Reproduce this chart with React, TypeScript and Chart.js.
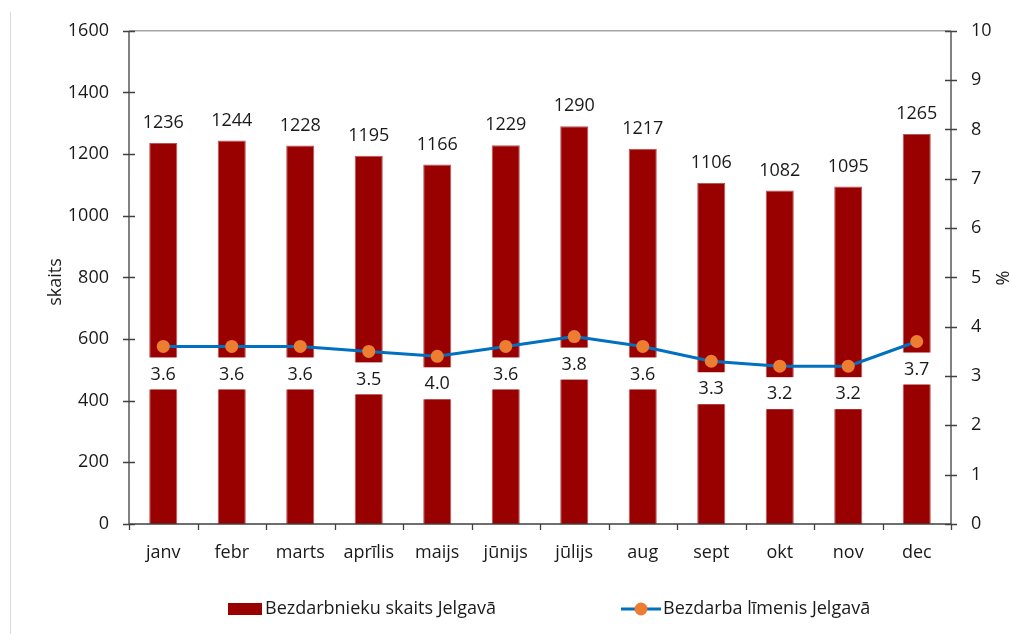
import React, { useEffect, useRef } from "react";
import { Chart, registerables } from "chart.js";
Chart.register(...registerables);

const months = ["janv", "febr", "marts", "aprīlis", "maijs", "jūnijs", "jūlijs", "aug", "sept", "okt", "nov", "dec"];
const unemployedCount = [1236, 1244, 1228, 1195, 1166, 1229, 1290, 1217, 1106, 1082, 1095, 1265];
const unemploymentRate = [3.6, 3.6, 3.6, 3.5, 3.4, 3.6, 3.8, 3.6, 3.3, 3.2, 3.2, 3.7];
const rateLabels = ["3.6", "3.6", "3.6", "3.5", "4.0", "3.6", "3.8", "3.6", "3.3", "3.2", "3.2", "3.7"];
const countLabel = "Bezdarbnieku skaits Jelgavā";
const rateLabel = "Bezdarba līmenis Jelgavā";
const leftTitle = "skaits";
const rightTitle = "%";

const FONT = "'Open Sans', 'Noto Sans', sans-serif";
const FS = 18;
const BAR = "#990000";
const LINE = "#0070C0";
const MARK = "#ED7D31";
const TEXT = "#1a1a1a";

const decor = {
  id: "decor",
  afterDatasetDraw(chart: any, args: any) {
    if (args.index !== 0) return;
    const ctx = chart.ctx;
    const barMeta = chart.getDatasetMeta(0);
    const lineMeta = chart.getDatasetMeta(1);
    ctx.save();
    ctx.font = `${FS}px ${FONT}`;
    ctx.textAlign = "center";
    ctx.textBaseline = "middle";
    barMeta.data.forEach((bar: any, i: number) => {
      ctx.fillStyle = TEXT;
      ctx.fillText(String(unemployedCount[i]), bar.x, bar.y - 20);
      const pt = lineMeta.data[i];
      const w = bar.width + 6;
      ctx.fillStyle = "#ffffff";
      ctx.fillRect(bar.x - w / 2, pt.y + 11, w, 32);
      ctx.fillStyle = TEXT;
      ctx.fillText(rateLabels[i], bar.x, pt.y + 28);
    });
    ctx.restore();
  },
  afterDraw(chart: any) {
    const ctx = chart.ctx;
    const a = chart.chartArea;
    const y = chart.scales.y;
    const y1 = chart.scales.y1;
    const x = chart.scales.x;
    ctx.save();
    ctx.strokeStyle = "#d9d9d9";
    ctx.lineWidth = 1;
    ctx.beginPath();
    ctx.moveTo(10.5, 12);
    ctx.lineTo(10.5, 634);
    ctx.stroke();
    ctx.strokeStyle = "#a6a6a6";
    ctx.lineWidth = 1.5;
    ctx.beginPath();
    ctx.moveTo(a.left, a.top);
    ctx.lineTo(a.right, a.top);
    ctx.stroke();
    ctx.strokeStyle = "#404040";
    ctx.lineWidth = 1.3;
    ctx.beginPath();
    ctx.moveTo(a.left, a.top);
    ctx.lineTo(a.left, a.bottom);
    ctx.moveTo(a.right, a.top);
    ctx.lineTo(a.right, a.bottom);
    ctx.moveTo(a.left, a.bottom);
    ctx.lineTo(a.right, a.bottom);
    y.ticks.forEach((t: any) => {
      const py = Math.round(y.getPixelForValue(t.value)) + 0.5;
      ctx.moveTo(a.left - 6, py);
      ctx.lineTo(a.left + 6, py);
    });
    y1.ticks.forEach((t: any) => {
      const py = Math.round(y1.getPixelForValue(t.value)) + 0.5;
      ctx.moveTo(a.right - 6, py);
      ctx.lineTo(a.right + 6, py);
    });
    const step = x.getPixelForValue(1) - x.getPixelForValue(0);
    for (let i = 0; i <= months.length; i++) {
      const px = Math.round(x.getPixelForValue(i) - step / 2) + 0.5;
      ctx.moveTo(px, a.bottom);
      ctx.lineTo(px, a.bottom + 6);
    }
    ctx.stroke();
    ctx.fillStyle = TEXT;
    ctx.font = `${FS}px ${FONT}`;
    ctx.textAlign = "center";
    ctx.textBaseline = "middle";
    ctx.save();
    ctx.translate(56, 282);
    ctx.rotate(-Math.PI / 2);
    ctx.fillText(leftTitle, 0, 0);
    ctx.restore();
    ctx.save();
    ctx.translate(1004, 278);
    ctx.rotate(-Math.PI / 2);
    ctx.fillText(rightTitle, 0, 0);
    ctx.restore();
    const ly = 609;
    ctx.fillStyle = BAR;
    ctx.fillRect(228, ly - 6, 34, 12);
    ctx.fillStyle = TEXT;
    ctx.textAlign = "left";
    ctx.font = `${FS}px ${FONT}`;
    ctx.fillText(countLabel, 265, ly);
    ctx.strokeStyle = LINE;
    ctx.lineWidth = 3;
    ctx.beginPath();
    ctx.moveTo(621, ly);
    ctx.lineTo(661, ly);
    ctx.stroke();
    ctx.fillStyle = MARK;
    ctx.beginPath();
    ctx.arc(641, ly, 6.5, 0, Math.PI * 2);
    ctx.fill();
    ctx.fillStyle = TEXT;
    ctx.fillText(rateLabel, 663, ly);
    ctx.restore();
  },
};

export default function App() {
  const ref = useRef<HTMLCanvasElement | null>(null);
  useEffect(() => {
    if (!ref.current) return;
    const tickFont = { family: FONT, size: FS };
    const chart = new Chart(ref.current, {
      type: "bar",
      data: {
        labels: months,
        datasets: [
          {
            type: "bar",
            label: countLabel,
            data: unemployedCount,
            backgroundColor: BAR,
            borderColor: "#b95555",
            borderWidth: 1,
            yAxisID: "y",
            order: 2,
            categoryPercentage: 1,
            barPercentage: 0.41,
          },
          {
            type: "line",
            label: rateLabel,
            data: unemploymentRate,
            borderColor: LINE,
            borderWidth: 3,
            pointBackgroundColor: MARK,
            pointBorderWidth: 0,
            pointRadius: 6.5,
            tension: 0,
            yAxisID: "y1",
            order: 1,
          } as any,
        ],
      },
      options: {
        animation: false,
        responsive: true,
        maintainAspectRatio: false,
        layout: { padding: { top: 30, left: 0, right: 0, bottom: 0 } },
        plugins: { legend: { display: false }, tooltip: { enabled: false } },
        scales: {
          x: {
            offset: true,
            grid: { display: false, drawTicks: false },
            border: { display: false },
            ticks: { padding: 18, color: TEXT, font: tickFont },
            afterFit: (s: any) => { s.height = 110; },
          },
          y: {
            position: "left",
            min: 0,
            max: 1600,
            ticks: { stepSize: 200, padding: 20, color: TEXT, font: tickFont, callback: (v: any) => String(v) },
            grid: { display: false, drawTicks: false },
            border: { display: false },
            afterFit: (s: any) => { s.width = 129; },
          },
          y1: {
            position: "right",
            min: 0,
            max: 10,
            ticks: { stepSize: 1, padding: 20, color: TEXT, font: tickFont, callback: (v: any) => String(v) },
            grid: { display: false, drawTicks: false },
            border: { display: false },
            afterFit: (s: any) => { s.width = 60; },
          },
        },
      },
      plugins: [decor],
    });
    return () => chart.destroy();
  }, []);
  return (
    <div style={{ position: "absolute", left: 0, top: 0, width: 1011, height: 634, background: "#fff" }}>
      <canvas ref={ref} />
    </div>
  );
}
